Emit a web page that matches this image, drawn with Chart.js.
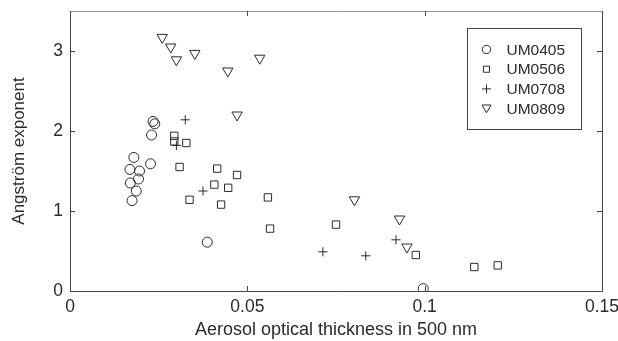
<!DOCTYPE html>
<html>
<head>
<meta charset="utf-8">
<script src="https://cdn.jsdelivr.net/npm/chart.js@4/dist/chart.umd.min.js"></script>
<style>
  html, body { margin: 0; padding: 0; background: #fff; }
  #wrap { width: 618px; height: 341px; }
</style>
</head>
<body>
<div id="wrap"><canvas id="c" width="618" height="341"></canvas></div>
<script>
// values: x = aerosol optical thickness, y = Angstrom exponent
const um0405X = [0.0169, 0.0180, 0.0196, 0.0227, 0.0170, 0.0193, 0.0187, 0.0175, 0.0387, 0.0234, 0.0239, 0.0230, 0.0996];
const um0405Y = [1.52, 1.67, 1.50, 1.59, 1.35, 1.40, 1.25, 1.13, 0.61, 2.12, 2.09, 1.95, 0.03];

const um0506X = [0.0294, 0.0294, 0.0328, 0.0309, 0.0415, 0.0471, 0.0407, 0.0446, 0.0337, 0.0426, 0.0558, 0.0564, 0.0750, 0.0975, 0.1140, 0.1206];
const um0506Y = [1.94, 1.87, 1.85, 1.55, 1.53, 1.45, 1.33, 1.29, 1.14, 1.08, 1.17, 0.78, 0.83, 0.45, 0.30, 0.32];

const um0708X = [0.0325, 0.0300, 0.0375, 0.0713, 0.0834, 0.0919];
const um0708Y = [2.14, 1.82, 1.25, 0.49, 0.44, 0.64];

const um0809X = [0.0260, 0.0284, 0.0300, 0.0352, 0.0445, 0.0471, 0.0535, 0.0802, 0.0929, 0.0950];
const um0809Y = [3.17, 3.05, 2.89, 2.97, 2.75, 2.20, 2.91, 1.14, 0.90, 0.55];

const seriesNames = ['UM0405', 'UM0506', 'UM0708', 'UM0809'];
const xTicks = [0, 0.05, 0.1, 0.15];
const xTickLabels = ['0', '0.05', '0.1', '0.15'];
const yTicks = [0, 1, 2, 3];

const ink = '#2b2b2b';
const font = "'Liberation Sans', Arial, sans-serif";

function pts(xs, ys) {
  return xs.map((x, i) => ({ x: x, y: ys[i] }));
}

const markerStyles = [
  { pointStyle: 'circle', pointRadius: 5, rotation: 0 },
  { pointStyle: 'rect', pointRadius: 5.2, rotation: 0 },
  { pointStyle: 'cross', pointRadius: 4.6, rotation: 0 },
  { pointStyle: 'triangle', pointRadius: 6, rotation: 180 }
];
const legendStyles = [
  { pointStyle: 'circle', radius: 4.2, rotation: 0 },
  { pointStyle: 'rect', radius: 4.3, rotation: 0 },
  { pointStyle: 'cross', radius: 4.5, rotation: 0 },
  { pointStyle: 'triangle', radius: 5.2, rotation: 180 }
];

const allData = [pts(um0405X, um0405Y), pts(um0506X, um0506Y), pts(um0708X, um0708Y), pts(um0809X, um0809Y)];

const datasets = allData.map((d, i) => ({
  label: seriesNames[i],
  data: d,
  pointStyle: markerStyles[i].pointStyle,
  pointRadius: markerStyles[i].pointRadius,
  pointRotation: markerStyles[i].rotation,
  pointBorderWidth: 1,
  pointBorderColor: ink,
  pointBackgroundColor: 'rgba(0,0,0,0)',
  showLine: false
}));

// box around the axes, inward tick marks and the inset legend
const framePlugin = {
  id: 'frame',
  afterDraw(chart) {
    const ctx = chart.ctx;
    const a = chart.chartArea;
    const xs = chart.scales.x, ys = chart.scales.y;
    const tl = 5;
    ctx.save();
    ctx.lineWidth = 1;
    ctx.strokeStyle = '#444';
    ctx.beginPath();
    ctx.moveTo(a.left + 0.5, a.top + 0.5);
    ctx.lineTo(a.left + 0.5, a.bottom + 0.5);
    ctx.lineTo(a.right + 0.5, a.bottom + 0.5);
    ctx.lineTo(a.right + 0.5, a.top + 0.5);
    ctx.stroke();
    ctx.strokeStyle = '#999';
    ctx.beginPath();
    ctx.moveTo(a.left + 0.5, a.top + 0.5);
    ctx.lineTo(a.right + 0.5, a.top + 0.5);
    ctx.stroke();

    ctx.strokeStyle = '#444';
    ctx.beginPath();
    xTicks.forEach(v => {
      const px = Math.round(xs.getPixelForValue(v)) + 0.5;
      ctx.moveTo(px, a.bottom);
      ctx.lineTo(px, a.bottom - tl);
      ctx.moveTo(px, a.top);
      ctx.lineTo(px, a.top + tl);
    });
    yTicks.forEach(v => {
      const py = Math.round(ys.getPixelForValue(v)) + 0.5;
      ctx.moveTo(a.left, py);
      ctx.lineTo(a.left + tl, py);
      ctx.moveTo(a.right, py);
      ctx.lineTo(a.right - tl, py);
    });
    ctx.stroke();

    // legend box
    const bx = 467.5, by = 28.5, bw = 114, bh = 101;
    ctx.strokeStyle = '#444';
    ctx.strokeRect(bx, by, bw, bh);
    ctx.font = '15.5px ' + font;
    ctx.textBaseline = 'middle';
    ctx.textAlign = 'left';
    seriesNames.forEach((name, i) => {
      const rowY = by + 21 + i * 19.7;
      const s = legendStyles[i];
      ctx.strokeStyle = ink;
      ctx.fillStyle = 'rgba(0,0,0,0)';
      ctx.lineWidth = 1;
      Chart.helpers.drawPoint(ctx, {
        pointStyle: s.pointStyle,
        radius: s.radius,
        rotation: s.rotation,
        borderWidth: 1
      }, bx + 19, rowY + (s.rotation ? -1 : 0));
      ctx.fillStyle = ink;
      ctx.fillText(name, bx + 39, rowY + 1);
    });
    ctx.restore();
  }
};

new Chart(document.getElementById('c'), {
  type: 'scatter',
  data: { datasets: datasets },
  options: {
    responsive: false,
    animation: false,
    devicePixelRatio: 1,
    layout: { padding: { top: 11, right: 16, left: 0, bottom: 0 } },
    plugins: {
      legend: { display: false },
      tooltip: { enabled: false }
    },
    scales: {
      x: {
        type: 'linear',
        min: 0,
        max: 0.15,
        afterFit(scale) {
          scale.height = 50;
          scale.paddingLeft = 0;
          scale.paddingRight = 0;
        },
        grid: { display: false, drawTicks: false },
        border: { display: false },
        afterBuildTicks(scale) { scale.ticks = xTicks.map(v => ({ value: v })); },
        ticks: {
          padding: 6,
          autoSkip: false,
          color: ink,
          font: { family: font, size: 17.5 },
          maxRotation: 0,
          callback: (v) => xTickLabels[xTicks.indexOf(v)] ?? ''
        },
        title: {
          display: true,
          text: 'Aerosol optical thickness in 500 nm',
          color: ink,
          font: { family: font, size: 18 },
          padding: { top: 2, bottom: 0 }
        }
      },
      y: {
        type: 'linear',
        min: 0,
        max: 3.5,
        afterFit(scale) {
          scale.width = 70;
          scale.paddingTop = 0;
          scale.paddingBottom = 0;
        },
        grid: { display: false, drawTicks: false },
        border: { display: false },
        afterBuildTicks(scale) { scale.ticks = yTicks.map(v => ({ value: v })); },
        ticks: {
          padding: 7,
          autoSkip: false,
          color: ink,
          font: { family: font, size: 17.5 }
        },
        title: {
          display: true,
          text: 'Angström exponent',
          color: ink,
          font: { family: font, size: 17 },
          padding: { top: 9, bottom: 4 }
        }
      }
    }
  },
  plugins: [framePlugin]
});
</script>
</body>
</html>
